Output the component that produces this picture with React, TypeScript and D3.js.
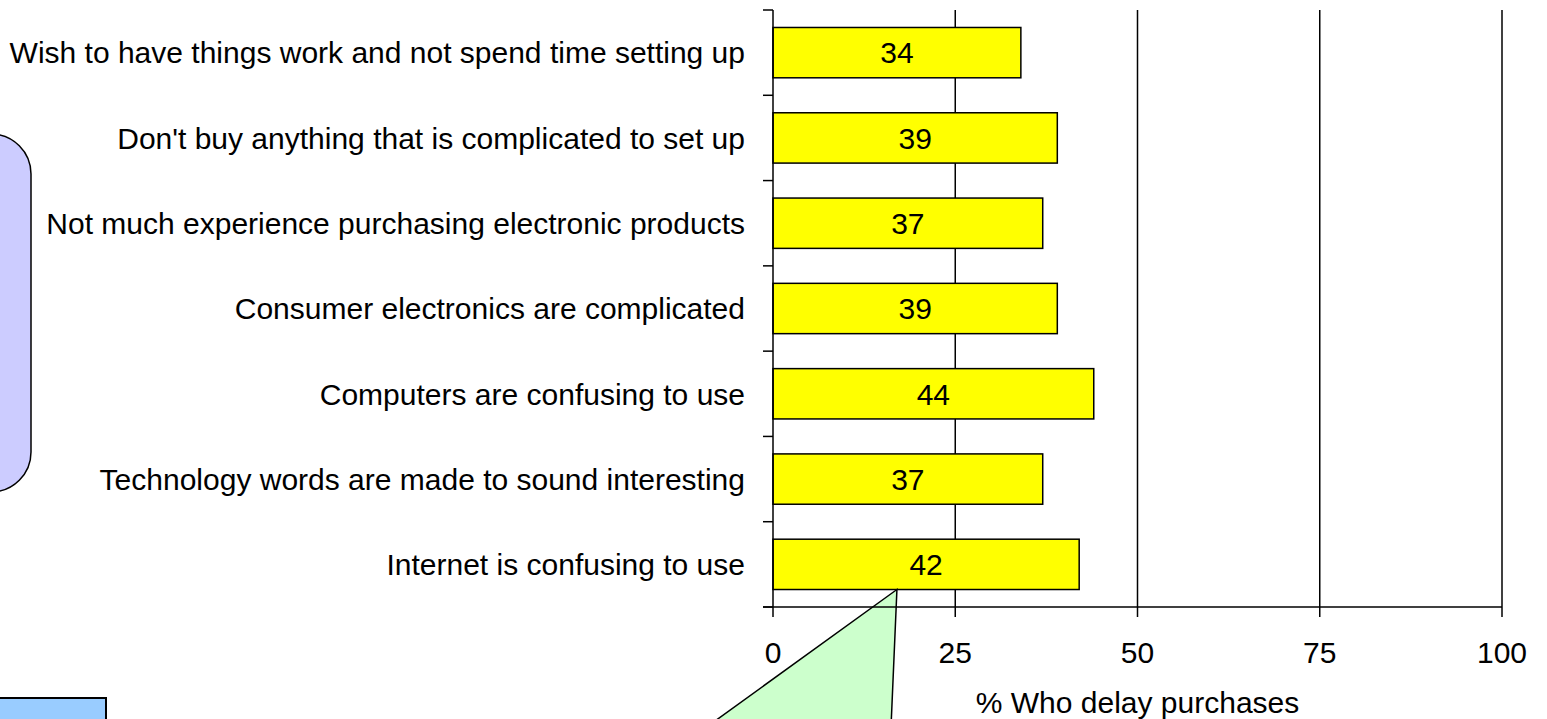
import React from "react";
import * as d3 from "d3";

const categories = [
  "Wish to have things work and not spend time setting up",
  "Don't buy anything that is complicated to set up",
  "Not much experience purchasing electronic products",
  "Consumer electronics are complicated",
  "Computers are confusing to use",
  "Technology words are made to sound interesting",
  "Internet is confusing to use",
];
const values = [34, 39, 37, 39, 44, 37, 42];
const xTicks = [0, 25, 50, 75, 100];
const xTitle = "% Who delay purchases";

const W = 1547;
const H = 719;
const FONT = "'Liberation Sans', Arial, sans-serif";

export default function App() {
  const x = d3.scaleLinear().domain([0, 100]).range([773, 1502]);
  const y = d3
    .scaleBand<string>()
    .domain(categories)
    .range([10, 607])
    .paddingInner(0.41)
    .paddingOuter(0.205);
  const step = y.step();
  const [top, bottom] = y.range();
  const sepTicks = d3.range(categories.length + 1).map((i) => top + i * step);
  const x0 = x(0);
  const lastBar = categories[categories.length - 1];
  const tipX = x(17);
  const tipY = (y(lastBar) as number) + y.bandwidth();

  return (
    <svg
      width={W}
      height={H}
      style={{ position: "absolute", left: 0, top: 0, display: "block" }}
      fontFamily={FONT}
    >
      <rect x={0} y={0} width={W} height={H} fill="#ffffff" />

      {/* side panels partly outside the view */}
      <rect x={-300} y={134} width={331} height={358} rx={40} ry={40} fill="#CCCCFF" stroke="#000" strokeWidth={1.5} />
      <rect x={-20} y={698} width={126} height={60} fill="#99CCFF" stroke="#000" strokeWidth={2} />

      {/* vertical gridlines */}
      {xTicks.slice(1).map((t) => (
        <line key={"g" + t} x1={x(t)} x2={x(t)} y1={top} y2={bottom} stroke="#000" strokeWidth={1.5} />
      ))}

      {/* bars */}
      {categories.map((c, i) => (
        <g key={c}>
          <rect
            x={x0}
            y={y(c)}
            width={x(values[i]) - x0}
            height={y.bandwidth()}
            fill="#FFFF00"
            stroke="#000"
            strokeWidth={1.5}
          />
          <text
            x={(x0 + x(values[i])) / 2}
            y={(y(c) as number) + y.bandwidth() / 2}
            dy="0.358em"
            textAnchor="middle"
            fontSize={30}
            fill="#000"
          >
            {values[i]}
          </text>
          <text
            x={745}
            y={(y(c) as number) + y.bandwidth() / 2}
            dy="0.358em"
            textAnchor="end"
            fontSize={30}
            fill="#000"
          >
            {c}
          </text>
        </g>
      ))}

      {/* callout wedge */}
      <polygon
        points={`${tipX},${tipY} ${tipX - 193},${H + 10} ${tipX - 6},${H + 10}`}
        fill="#CCFFCC"
        stroke="#000"
        strokeWidth={1.5}
      />

      {/* axes */}
      <line x1={x0} x2={x0} y1={top} y2={bottom} stroke="#000" strokeWidth={1.5} />
      {sepTicks.map((t, i) => (
        <line key={"s" + i} x1={x0 - 10} x2={x0} y1={t} y2={t} stroke="#000" strokeWidth={1.5} />
      ))}
      <line x1={x0 - 10} x2={x(100)} y1={bottom} y2={bottom} stroke="#000" strokeWidth={1.5} />
      {xTicks.map((t) => (
        <g key={"t" + t}>
          <line x1={x(t)} x2={x(t)} y1={bottom} y2={bottom + 10} stroke="#000" strokeWidth={1.5} />
          <text x={x(t)} y={663} textAnchor="middle" fontSize={30} fill="#000">
            {t}
          </text>
        </g>
      ))}
      <text x={x(50)} y={713} textAnchor="middle" fontSize={30} fill="#000">
        {xTitle}
      </text>
    </svg>
  );
}
